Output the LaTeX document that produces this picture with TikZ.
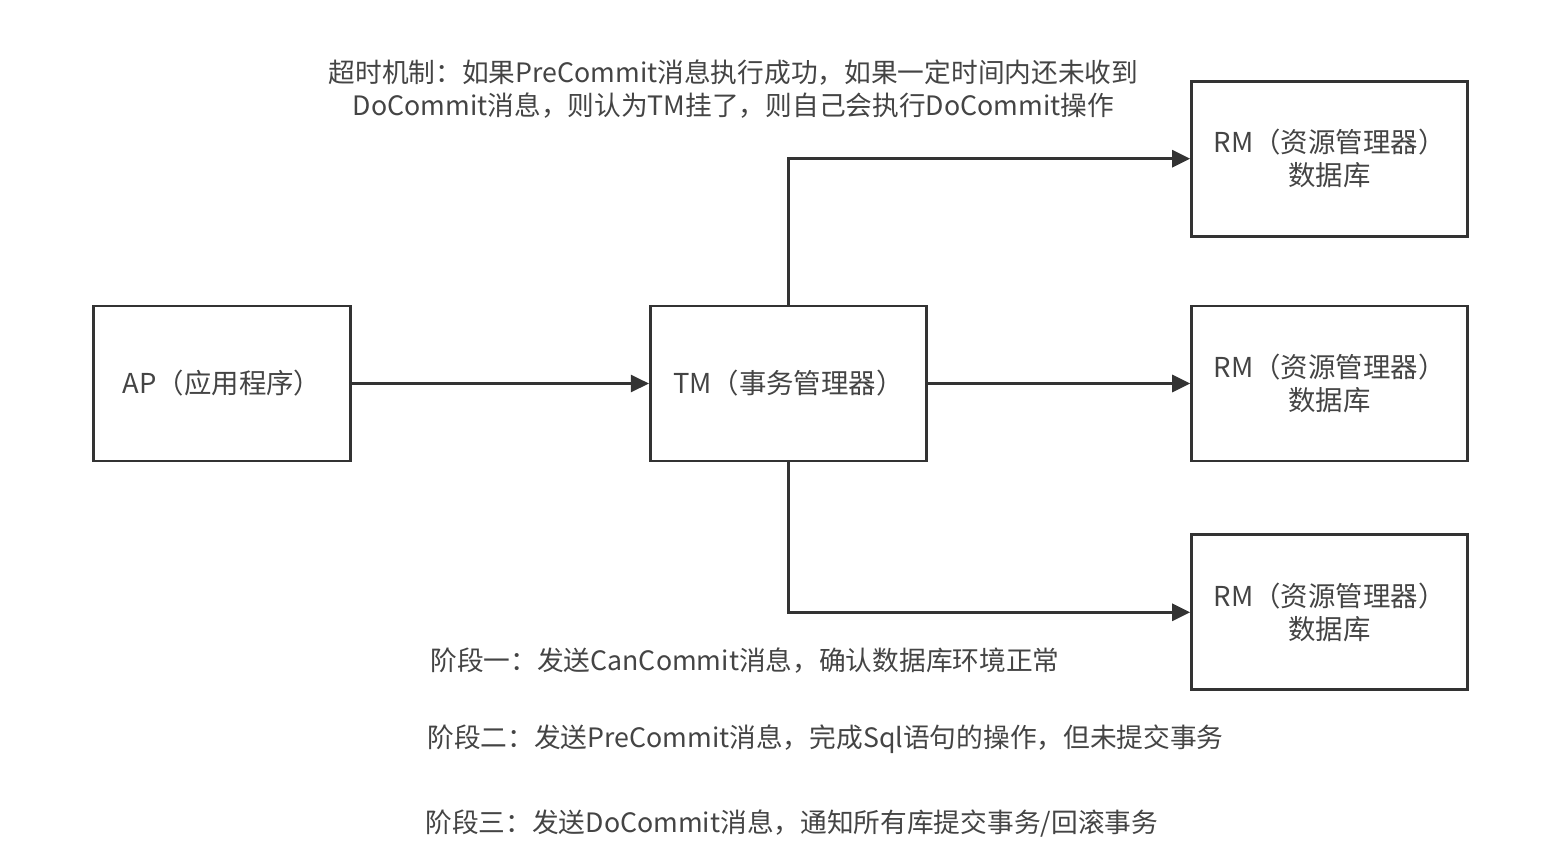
\documentclass[tikz,border=0pt]{standalone}
\usepackage{fontspec}
\usepackage{xcolor}
\usepackage{tikz}
\usetikzlibrary{positioning,arrows.meta}
\newfontfamily\cjk{Noto Sans CJK SC}
\definecolor{linegray}{HTML}{333333}
\definecolor{textgray}{HTML}{444444}
\tikzset{
    block/.style={rectangle, draw=linegray, line width=1.6pt, minimum width=5.52cm, minimum height=3.1cm, align=center, font=\cjk\fontsize{15.6}{18.8}\selectfont, text=textgray},
    arrow/.style={-{Triangle[length=0.36cm, width=0.34cm]}, line width=1.6pt, color=linegray},
    note/.style={font=\cjk\fontsize{15.2}{18.8}\selectfont, text=textgray, inner sep=0pt}
}

\begin{document}
\begin{tikzpicture}
    \useasboundingbox (0,0) rectangle (31.12,-17.12);
    \node[block, minimum width=5.14cm] (ap) at (4.44,-7.67) {AP（应用程序）};
    \node[block, right=5.94cm of ap] (tm) {TM（事务管理器）};
    \node[block, right=5.25cm of tm] (rm2) {RM（资源管理器）\\数据库};
    \node[block, above=1.34cm of rm2] (rm1) {RM（资源管理器）\\数据库};
    \node[block, below=1.42cm of rm2] (rm3) {RM（资源管理器）\\数据库};
    \draw[arrow] (ap) -- (tm);
    \draw[arrow] (tm.north) |- (rm1.west);
    \draw[arrow] (tm) -- (rm2);
    \draw[arrow] (tm.south) |- (rm3.west);
    % notes
    \node[note, align=center] (timeout) at (14.67,-1.79) {超时机制：如果PreCommit消息执行成功，如果一定时间内还未收到\\DoCommit消息，则认为TM挂了，则自己会执行DoCommit操作};
    \node[note, anchor=west] (phase1) at (8.6,-13.22) {阶段一：发送CanCommit消息，确认数据库环境正常};
    \node[note, anchor=west] (phase2) at (8.54,-14.78) {阶段二：发送PreCommit消息，完成Sql语句的操作，但未提交事务};
    \node[note, anchor=west] (phase3) at (8.5,-16.48) {阶段三：发送DoCommit消息，通知所有库提交事务/回滚事务};
\end{tikzpicture}
\end{document}
